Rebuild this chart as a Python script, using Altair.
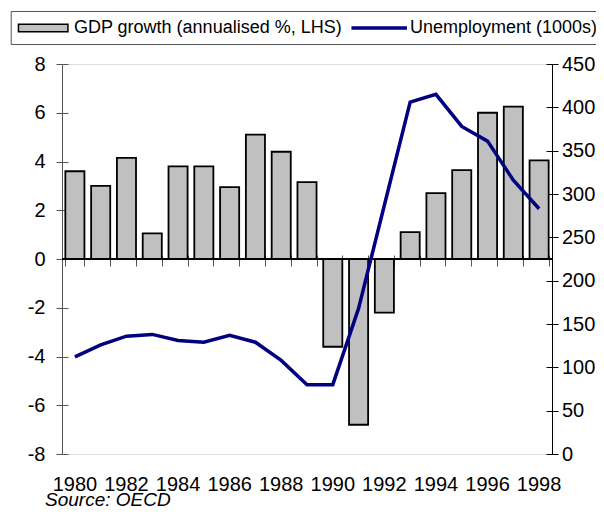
import altair as alt
import pandas as pd

# ---- data ----
years = list(range(1980, 1999))
gdp = [3.6, 3.0, 4.15, 1.05, 3.8, 3.8, 2.95, 5.1, 4.4, 3.15,
       -3.6, -6.8, -2.2, 1.1, 2.7, 3.65, 6.0, 6.25, 4.05]
unemp = [112, 126, 136, 138, 131, 129, 137, 129, 108, 80,
         80, 168, 287, 406, 415, 378, 361, 316, 283]
gdp_label = "GDP growth (annualised %, LHS)"
unemp_label = "Unemployment (1000s)"
left_ticks = [-8, -6, -4, -2, 0, 2, 4, 6, 8]
right_ticks = [0, 50, 100, 150, 200, 250, 300, 350, 400, 450]
year_labels = years[::2]
source_text = "Source: OECD"

df = pd.DataFrame({"year": years, "gdp": gdp, "unemp": unemp})

FONT = "Liberation Sans"
AXG = "#555555"
NAVY = "#000080"
xscale = alt.Scale(paddingInner=0.26, paddingOuter=0.13)
left_dom = alt.Scale(domain=[-8, 8], nice=False, zero=False)
right_dom = alt.Scale(domain=[0, 450], nice=False, zero=False)
color_scale = alt.Scale(domain=[gdp_label, unemp_label], range=["#c0c0c0", NAVY])

is_line = "datum.value == '" + unemp_label + "'"
legend = alt.Legend(
    orient="none", legendX=-51.3, legendY=-53, direction="horizontal",
    title=None, labelFont=FONT, labelFontSize=18, labelColor="black",
    labelLimit=500, labelOffset=20.7, symbolOffset=15.5, symbolSize=324,
    columnPadding=6, padding=7, strokeColor="#555555", fillColor="white",
    symbolType=alt.ExprRef(expr=is_line + " ? 'M-3,-0.111H3V0.111H-3Z' : 'M-2.75,-0.417H2.75V0.417H-2.75Z'"),
    symbolStrokeColor=alt.ExprRef(expr=is_line + " ? '" + NAVY + "' : 'black'"),
    symbolStrokeWidth=1.5,
    symbolOpacity=1,
)

base = alt.Chart(df)

# helper layer: tick marks crossing the zero line and inner left ticks
helper_left = base.mark_bar(opacity=0).encode(
    x=alt.X("year:O", scale=xscale, axis=alt.Axis(
        orient="bottom", offset=-199, domain=False, ticks=True, tickBand="extent",
        tickSize=11, tickColor=AXG, tickWidth=1, labels=False, title=None, grid=False)),
    y=alt.Y("gdp:Q", scale=left_dom, axis=alt.Axis(
        orient="left", offset=-6, values=left_ticks, domain=False, tickSize=6,
        tickColor=AXG, tickWidth=1, labels=False, title=None, grid=False)),
)

bars = base.mark_bar(stroke="black", strokeWidth=1.8).transform_calculate(
    series="'" + gdp_label + "'"
).encode(
    x=alt.X("year:O", scale=xscale, axis=alt.Axis(
        orient="bottom", values=year_labels, domain=False, ticks=False, labelAngle=0,
        labelFont=FONT, labelFontSize=20, labelPadding=20, labelColor="black",
        labelOverlap=False, title=None, grid=False)),
    y=alt.Y("gdp:Q", scale=left_dom, axis=alt.Axis(
        orient="left", values=left_ticks, domain=True, domainColor=AXG, domainWidth=1,
        tickSize=6, tickColor=AXG, tickWidth=1, labelFont=FONT, labelFontSize=20,
        labelPadding=11, labelColor="black", title=None, grid=False,
        labelExpr="datum.value < 0 ? '-' + abs(datum.value) : datum.label")),
    color=alt.Color("series:N", scale=color_scale, legend=legend),
)

zero_rule = base.mark_rule(color="black", strokeWidth=2).encode(
    y=alt.YDatum(0, type="quantitative", scale=left_dom, axis=None),
)

line = base.mark_line(strokeWidth=3.5, color=NAVY).encode(
    x=alt.X("year:O", scale=xscale, axis=None),
    y=alt.Y("unemp:Q", scale=right_dom, axis=alt.Axis(
        orient="right", values=right_ticks, domain=True, domainColor="black", domainWidth=1,
        tickSize=6, tickColor="black", tickWidth=1, labelFont=FONT, labelFontSize=20,
        labelPadding=3.5, labelColor="black", title=None, grid=False)),
)

helper_right = base.mark_point(opacity=0).encode(
    x=alt.X("year:O", scale=xscale, axis=None),
    y=alt.Y("unemp:Q", scale=right_dom, axis=alt.Axis(
        orient="right", offset=-6, values=right_ticks, domain=False, tickSize=6,
        tickColor="black", tickWidth=1, labels=False, title=None, grid=False)),
)

chart = alt.layer(helper_left, bars, zero_rule, line, helper_right).resolve_scale(
    y="independent"
).resolve_axis(
    x="independent", y="independent"
).properties(
    width=490, height=390,
    autosize=alt.AutoSizeParams(type="none"),
    padding={"left": 54, "top": 56, "right": 44, "bottom": 53},
    title=alt.TitleParams(source_text, orient="bottom", anchor="start", frame="group",
                          font=FONT, fontSize=19, fontStyle="italic", fontWeight="normal",
                          color="black", dx=-17, offset=-3),
).configure_view(strokeWidth=0).configure(font=FONT)

chart.save("out.html", embed_options={"renderer": "svg", "actions": False})
